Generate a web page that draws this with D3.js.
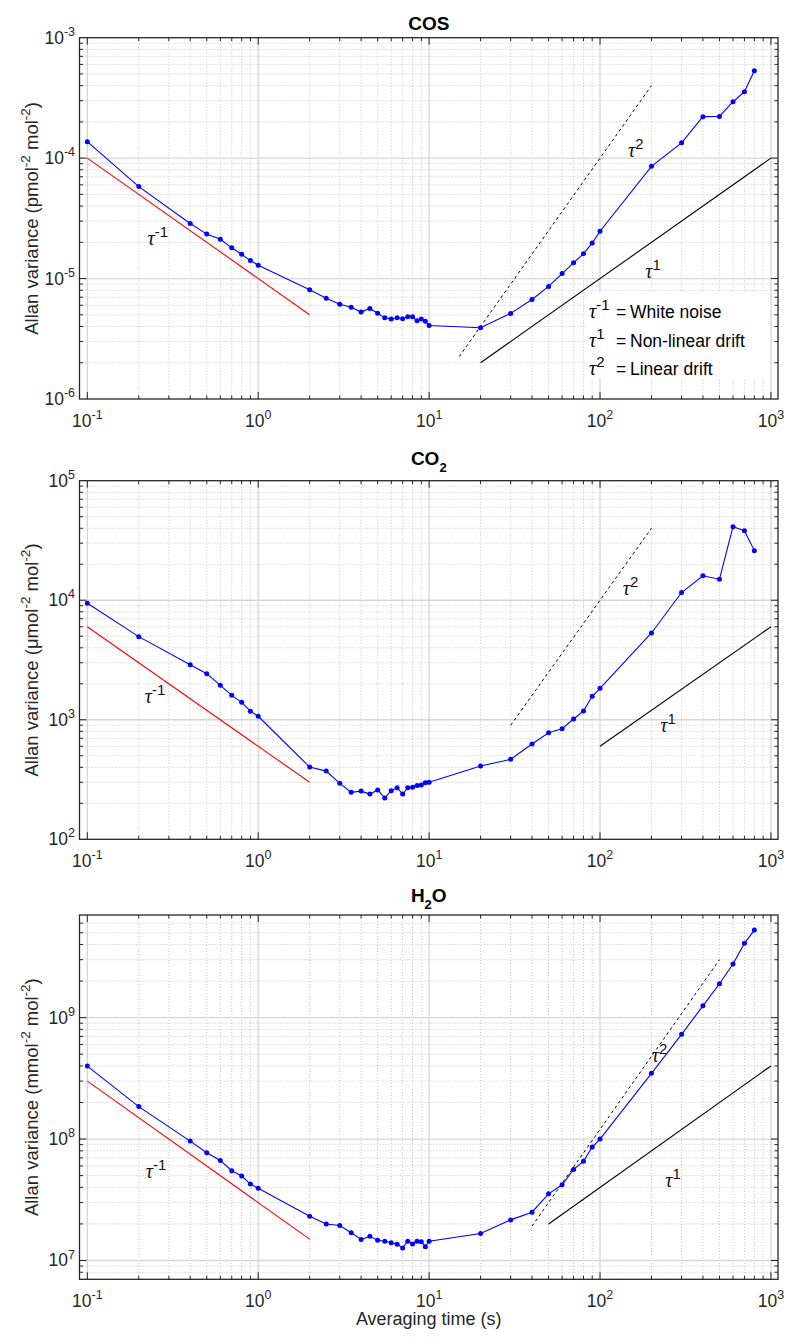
<!DOCTYPE html>
<html><head><meta charset="utf-8">
<script src="https://cdn.jsdelivr.net/npm/d3@7"></script>
<style>
html,body{margin:0;padding:0;background:#fff;}
svg{display:block;font-family:"Liberation Sans",Arial,sans-serif;}
</style></head>
<body>
<svg id="chart" width="800" height="1344"></svg>
<script>
// ---------- DATA ----------
const tau = [0.1,0.2,0.4,0.5,0.6,0.7,0.8,0.9,1,
  2,2.5,3,3.5,4,4.5,5,5.5,6,6.5,7,7.5,8,8.5,9,9.5,10,
  20,30,40,50,60,70,80,90,100,
  200,300,400,500,600,700,800];

const cosVar = [1.37e-4,5.8e-5,2.87e-5,2.34e-5,2.12e-5,1.80e-5,1.59e-5,1.41e-5,1.29e-5,
  8.08e-6,6.85e-6,6.11e-6,5.77e-6,5.27e-6,5.65e-6,5.16e-6,4.72e-6,4.61e-6,4.72e-6,4.64e-6,4.82e-6,4.82e-6,4.46e-6,4.61e-6,4.43e-6,4.08e-6,
  3.90e-6,5.14e-6,6.71e-6,8.61e-6,1.10e-5,1.35e-5,1.61e-5,1.97e-5,2.47e-5,
  8.55e-5,1.34e-4,2.21e-4,2.22e-4,2.94e-4,3.56e-4,5.32e-4];

const co2Var = [9420,4960,2890,2430,1940,1600,1400,1180,1070,
  402,372,294,247,253,239,259,222,255,270,239,270,272,282,285,297,300,
  410,467,627,779,841,1014,1183,1571,1833,
  5320,11600,16000,15000,41200,38200,26000];

const h2oVar = [3.99e8,1.85e8,9.62e7,7.71e7,6.67e7,5.48e7,4.96e7,4.26e7,3.93e7,
  2.31e7,2.00e7,1.94e7,1.69e7,1.49e7,1.58e7,1.47e7,1.44e7,1.40e7,1.36e7,1.27e7,1.44e7,1.37e7,1.44e7,1.43e7,1.30e7,1.44e7,
  1.67e7,2.16e7,2.50e7,3.54e7,4.20e7,5.62e7,6.55e7,8.59e7,1.00e8,
  3.48e8,7.28e8,1.25e9,1.90e9,2.76e9,4.09e9,5.26e9];

// reference slope lines (end points)
const cosWhite = [[0.1,1e-4],[2,5e-6]];
const cosLinear = [[15,2.25e-6],[200,4e-4]];
const cosNonlin = [[20,2e-6],[1000,1e-4]];
const co2White = [[0.1,6000],[2,300]];
const co2Linear = [[30,900],[200,4e4]];
const co2Nonlin = [[100,600],[1000,6000]];
const h2oWhite = [[0.1,3e8],[2,1.5e7]];
const h2oLinear = [[40,1.92e7],[500,3e9]];
const h2oNonlin = [[50,2e7],[1000,4e8]];

// tick labels (exponents of 10)
const xTickExps = [-1,0,1,2,3];
const cosYExps = [-6,-5,-4,-3];
const co2YExps = [2,3,4,5];
const h2oYExps = [7,8,9];

const legendItems = [["-1","White noise"],["1","Non-linear drift"],["2","Linear drift"]];

// ---------- LAYOUT ----------
const svg = d3.select("#chart");
const X0 = 79.5, X1 = 778;
const x = d3.scaleLog().domain([0.09,1100]).range([X0,X1]);

const panels = [
  {title:[["COS",0]], titleY:29.5, unit:"pmol", top:37.7, bottom:399, yDom:[1e-6,1e-3], yExps:cosYExps,
   vals:cosVar, white:cosWhite, lin:cosLinear, nonlin:cosNonlin,
   lab:{w:[0.225,1.9e-5], l:[146,1.02e-4], n:[184,1.01e-5]}, legend:true},
  {title:[["CO",0],["2",1]], titleY:465, unit:"\u03bcmol", top:480.7, bottom:839.3, yDom:[1e2,1e5], yExps:co2YExps,
   vals:co2Var, white:co2White, lin:co2Linear, nonlin:co2Nonlin,
   lab:{w:[0.217,1380], l:[136,1.1e4], n:[225,789]}},
  {title:[["H",0],["2",1],["O",2]], titleY:902, unit:"mmol", top:915, bottom:1279.3, yDom:[7e6,7e9], yExps:h2oYExps,
   vals:h2oVar, white:h2oWhite, lin:h2oLinear, nonlin:h2oNonlin,
   lab:{w:[0.22,4.77e7], l:[201,4.33e8], n:[241,4.05e7]}, xlabel:true}
];

function minorVals(dom){
  const out=[], maj=[];
  const lo=Math.floor(Math.log10(dom[0])), hi=Math.ceil(Math.log10(dom[1]));
  for(let e=lo;e<=hi;e++){
    for(let m=1;m<=9;m++){
      const v=m*Math.pow(10,e);
      if(v<=dom[0]*1.0001||v>=dom[1]*0.9999) continue;
      if(m===1) maj.push(v); else out.push(v);
    }
  }
  return {minor:out, major:maj};
}

function supText(sel, parts, baseSize, supSize){
  let prev=0;
  parts.forEach(([t,type])=>{
    const sp=sel.append("tspan").text(t);
    let target = type===1 ? -0.45*baseSize : 0;
    sp.attr("dy", target-prev);
    sp.attr("font-size", type===1? supSize: baseSize);
    prev=target;
  });
}

panels.forEach(p=>{
  const y = d3.scaleLog().domain(p.yDom).range([p.bottom,p.top]);
  const g = svg.append("g");
  const xt = minorVals(x.domain()), yt = minorVals(p.yDom);

  // grid minor
  g.selectAll(null).data(xt.minor).enter().append("line")
    .attr("x1",d=>x(d)).attr("x2",d=>x(d)).attr("y1",p.top).attr("y2",p.bottom)
    .attr("stroke","#c4c4c4").attr("stroke-width",1).attr("stroke-dasharray","1,2");
  g.selectAll(null).data(yt.minor).enter().append("line")
    .attr("y1",d=>y(d)).attr("y2",d=>y(d)).attr("x1",X0).attr("x2",X1)
    .attr("stroke","#c4c4c4").attr("stroke-width",1).attr("stroke-dasharray","1,2");
  // grid major
  g.selectAll(null).data(xt.major).enter().append("line")
    .attr("x1",d=>x(d)).attr("x2",d=>x(d)).attr("y1",p.top).attr("y2",p.bottom)
    .attr("stroke","#d6d6d6").attr("stroke-width",1.3);
  g.selectAll(null).data(yt.major).enter().append("line")
    .attr("y1",d=>y(d)).attr("y2",d=>y(d)).attr("x1",X0).attr("x2",X1)
    .attr("stroke","#d6d6d6").attr("stroke-width",1.3);

  const line = d3.line().x(d=>x(d[0])).y(d=>y(d[1]));
  // reference lines
  g.append("path").attr("d",line(p.white)).attr("stroke","#ff0000").attr("stroke-width",1.1).attr("fill","none");
  g.append("path").attr("d",line(p.lin)).attr("stroke","#000").attr("stroke-width",1).attr("stroke-dasharray","3,3").attr("fill","none");
  g.append("path").attr("d",line(p.nonlin)).attr("stroke","#000").attr("stroke-width",1.1).attr("fill","none");

  // data
  const pts = tau.map((t,i)=>[t,p.vals[i]]);
  g.append("path").attr("d",line(pts)).attr("stroke","#0000ff").attr("stroke-width",1.1).attr("fill","none");
  g.selectAll(null).data(pts).enter().append("circle")
    .attr("cx",d=>x(d[0])).attr("cy",d=>y(d[1])).attr("r",2.5).attr("fill","#0000ff");

  // tau labels
  const tauLab=(pos,exp)=>{
    const t=g.append("text").attr("x",x(pos[0])).attr("y",y(pos[1])).attr("fill","#111");
    t.append("tspan").text("\u03c4").attr("font-family","'Liberation Serif',serif").attr("font-style","italic").attr("font-size",20);
    t.append("tspan").text(exp).attr("dy",-8).attr("font-size",15);
  };
  tauLab(p.lab.w,"-1"); tauLab(p.lab.l,"2"); tauLab(p.lab.n,"1");

  // legend
  if(p.legend){
    g.append("rect").attr("x",586.5).attr("y",292).attr("width",183.5).attr("height",86).attr("fill","#fff");
    legendItems.forEach((it,i)=>{
      const by = 318.3 + i*28.3;
      const t=g.append("text").attr("x",589).attr("y",by).attr("fill","#000");
      t.append("tspan").text("\u03c4").attr("font-family","'Liberation Serif',serif").attr("font-style","italic").attr("font-size",20);
      t.append("tspan").text(it[0]).attr("dy",-8).attr("font-size",15);
      g.append("text").attr("x",616).attr("y",by).attr("font-size",17.5).attr("fill","#000").text("=");
      g.append("text").attr("x",630).attr("y",by).attr("font-size",17.5).attr("fill","#000").text(it[1]);
    });
  }

  // axes box
  const ac="#262626";
  g.append("rect").attr("x",X0).attr("y",p.top).attr("width",X1-X0).attr("height",p.bottom-p.top)
    .attr("fill","none").attr("stroke",ac).attr("stroke-width",1.3);
  const tickX=(vals,len)=>{
    g.selectAll(null).data(vals).enter().append("line")
      .attr("x1",d=>x(d)).attr("x2",d=>x(d)).attr("y1",p.bottom).attr("y2",p.bottom-len).attr("stroke",ac);
    g.selectAll(null).data(vals).enter().append("line")
      .attr("x1",d=>x(d)).attr("x2",d=>x(d)).attr("y1",p.top).attr("y2",p.top+len).attr("stroke",ac);
  };
  const tickY=(vals,len)=>{
    g.selectAll(null).data(vals).enter().append("line")
      .attr("y1",d=>y(d)).attr("y2",d=>y(d)).attr("x1",X0).attr("x2",X0+len).attr("stroke",ac);
    g.selectAll(null).data(vals).enter().append("line")
      .attr("y1",d=>y(d)).attr("y2",d=>y(d)).attr("x1",X1).attr("x2",X1-len).attr("stroke",ac);
  };
  tickX(xt.major,7); tickX(xt.minor,3.5); tickY(yt.major,7); tickY(yt.minor,3.5);

  xTickExps.forEach(e=>{
    const t=g.append("text").attr("x",x(Math.pow(10,e))).attr("y",p.bottom+28).attr("text-anchor","middle").attr("fill","#262626");
    supText(t,[["10",0],[String(e),1]],17.5,12.5);
  });
  p.yExps.forEach(e=>{
    const t=g.append("text").attr("x",X0-4.5).attr("y",y(Math.pow(10,e))+6).attr("text-anchor","end").attr("fill","#262626");
    supText(t,[["10",0],[String(e),1]],17.5,12.5);
  });

  const yl=g.append("text").attr("transform",`translate(38,${(p.top+p.bottom)/2}) rotate(-90)`)
    .attr("text-anchor","middle").attr("fill","#262626");
  supText(yl,[["Allan variance ("+p.unit,0],["-2",1],[" mol",0],["-2",1],[")",0]],18.5,13.5);

  const tt=g.append("text").attr("x",(X0+X1)/2).attr("y",p.titleY).attr("text-anchor","middle")
    .attr("font-weight","bold").attr("fill","#000");
  let prev=0;
  p.title.forEach(([s,type])=>{
    const target = type===1? 7:0;
    tt.append("tspan").text(s).attr("dy",target-prev).attr("font-size",type===1?13:19);
    prev=target;
  });

  if(p.xlabel){
    g.append("text").attr("x",(X0+X1)/2).attr("y",1325).attr("text-anchor","middle")
      .attr("font-size",18).attr("fill","#262626").text("Averaging time (s)");
  }
});
</script>
</body></html>
